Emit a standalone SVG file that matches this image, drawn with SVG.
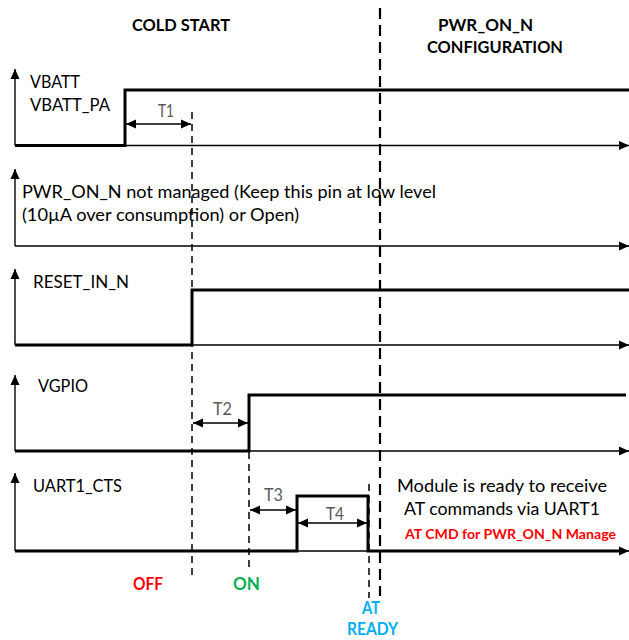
<svg xmlns="http://www.w3.org/2000/svg" width="629" height="640" viewBox="0 0 629 640">
<style>
text{font-family:"Lato","Liberation Sans",sans-serif;fill:#000}
.h{font-weight:bold;font-size:17px}
.lb{font-size:16.5px}
.t{font-size:16.5px;fill:#595959}
.st{font-weight:bold;font-size:16.5px}
.ax{stroke:#000;stroke-width:1.4;fill:none}
.sig{stroke:#000;stroke-width:3;fill:none}
.dim{stroke:#000;stroke-width:1.6;fill:none;marker-start:url(#ds);marker-end:url(#de)}
.d1{stroke:#000;stroke-width:1.5;stroke-dasharray:7 5;fill:none}
.d2{stroke:#000;stroke-width:2.2;stroke-dasharray:11 6;fill:none}
</style>
<defs>
<marker id="ah" markerUnits="userSpaceOnUse" markerWidth="10" markerHeight="10" refX="10" refY="5" orient="auto"><path d="M0,0.5 L10,5 L0,9.5 z" fill="#000"/></marker>
<marker id="de" markerUnits="userSpaceOnUse" markerWidth="10" markerHeight="10" refX="10" refY="5" orient="auto"><path d="M0,0.5 L10,5 L0,9.5 z" fill="#000"/></marker>
<marker id="ds" markerUnits="userSpaceOnUse" markerWidth="10" markerHeight="10" refX="0" refY="5" orient="auto"><path d="M10,0.5 L0,5 L10,9.5 z" fill="#000"/></marker>
</defs>

<g id="headers">
<text class="h" x="132" y="31" textLength="98" lengthAdjust="spacingAndGlyphs">COLD START</text>
<text class="h" x="438" y="31" textLength="95" lengthAdjust="spacingAndGlyphs">PWR_ON_N</text>
<text class="h" x="427" y="53" textLength="136" lengthAdjust="spacingAndGlyphs">CONFIGURATION</text>
</g>

<g id="connectors">
<g id="axes">
<path class="ax" d="M15,145.5 V69" marker-end="url(#ah)"/>
<path class="ax" d="M15,145.5 H629" marker-end="url(#ah)"/>
<path class="ax" d="M15,246 V169" marker-end="url(#ah)"/>
<path class="ax" d="M15,246 H629" marker-end="url(#ah)"/>
<path class="ax" d="M15,345 V269" marker-end="url(#ah)"/>
<path class="ax" d="M15,345 H629" marker-end="url(#ah)"/>
<path class="ax" d="M15,451 V375" marker-end="url(#ah)"/>
<path class="ax" d="M15,451 H629" marker-end="url(#ah)"/>
<path class="ax" d="M15,551 V473" marker-end="url(#ah)"/>
<path class="ax" d="M15,551 H629" marker-end="url(#ah)"/>
</g>
<g id="signals">
<path class="sig" d="M15,145.5 H125 V90 H629"/>
<path class="sig" d="M15,345 H192 V290 H629"/>
<path class="sig" d="M15,451 H249 V395 H626"/>
<path class="sig" d="M15,551 H297 V496 H368 V551 H620"/>
</g>
<g id="dashes">
<path class="d1" d="M192,112 V576"/>
<path class="d1" d="M249,452 V572"/>
<path class="d1" d="M369,484 V598"/>
<path class="d2" d="M380,8 V596"/>
</g>
<g id="dims">
<path class="dim" d="M126,124 H191"/>
<path class="dim" d="M193,423 H248"/>
<path class="dim" d="M250,510 H296"/>
<path class="dim" d="M298,523 H367"/>
</g>
</g>

<g id="vbatt">
<text class="lb" x="30" y="88" textLength="50" lengthAdjust="spacingAndGlyphs">VBATT</text>
<text class="lb" x="30" y="111" textLength="80" lengthAdjust="spacingAndGlyphs">VBATT_PA</text>
<text class="t" x="158" y="117" textLength="16" lengthAdjust="spacingAndGlyphs">T1</text>
</g>
<g id="pwr_on_n">
<text class="lb" x="22" y="198" textLength="414" lengthAdjust="spacingAndGlyphs">PWR_ON_N not managed (Keep this pin at low level</text>
<text class="lb" x="22" y="221" textLength="277" lengthAdjust="spacingAndGlyphs">(10µA over consumption) or Open)</text>
</g>
<g id="reset_in_n">
<text class="lb" x="33" y="288" textLength="96" lengthAdjust="spacingAndGlyphs">RESET_IN_N</text>
</g>
<g id="vgpio">
<text class="lb" x="38" y="392" textLength="50" lengthAdjust="spacingAndGlyphs">VGPIO</text>
<text class="t" x="213" y="415" textLength="19" lengthAdjust="spacingAndGlyphs">T2</text>
</g>
<g id="uart1_cts">
<text class="lb" x="33" y="492" textLength="89" lengthAdjust="spacingAndGlyphs">UART1_CTS</text>
<text class="t" x="264" y="501" textLength="19" lengthAdjust="spacingAndGlyphs">T3</text>
<text class="t" x="326" y="520" textLength="18" lengthAdjust="spacingAndGlyphs">T4</text>
</g>
<g id="note">
<text style="font-size:17.5px" x="397" y="492" textLength="210" lengthAdjust="spacingAndGlyphs">Module is ready to receive</text>
<text style="font-size:17.5px" x="404" y="515" textLength="196" lengthAdjust="spacingAndGlyphs">AT commands via UART1</text>
<text style="font-size:13.5px;font-weight:bold;fill:#FF0000" x="405" y="539" textLength="211" lengthAdjust="spacingAndGlyphs">AT CMD for PWR_ON_N Manage</text>
</g>
<g id="states">
<text class="st" x="133" y="590" textLength="30" lengthAdjust="spacingAndGlyphs" style="fill:#FF0000">OFF</text>
<text class="st" x="233" y="590" textLength="27" lengthAdjust="spacingAndGlyphs" style="fill:#00B050">ON</text>
<text class="st" x="362" y="614" textLength="18" lengthAdjust="spacingAndGlyphs" style="fill:#00B0F0">AT</text>
<text class="st" x="347" y="635" textLength="51" lengthAdjust="spacingAndGlyphs" style="fill:#00B0F0">READY</text>
</g>
</svg>
